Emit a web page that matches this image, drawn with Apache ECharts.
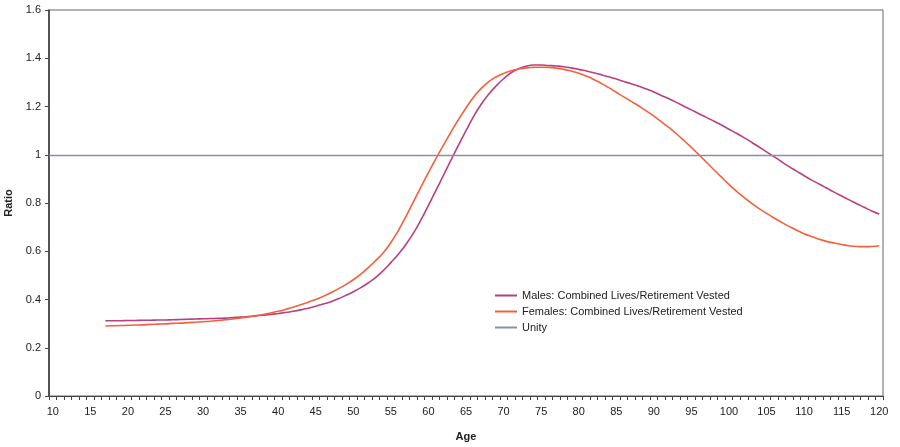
<!DOCTYPE html>
<html>
<head>
<meta charset="utf-8">
<script src="https://cdn.jsdelivr.net/npm/echarts@6/dist/echarts.min.js"></script>
<style>html,body{margin:0;padding:0;background:#fff}#c{width:900px;height:447px}</style>
</head>
<body>
<div id="c"></div>
<script>
const ages = [];
for (let a = 10; a <= 120; a++) ages.push(String(a));

// ages 10..16 have no value
const maleValues = [null,null,null,null,null,null,null,
0.312,0.312,0.312,0.313,0.313,0.314,0.314,0.315,0.315,0.316,
0.317,0.318,0.319,0.320,0.321,0.322,0.323,0.325,0.327,0.329,
0.332,0.335,0.338,0.342,0.346,0.351,0.357,0.364,0.372,0.381,
0.391,0.403,0.417,0.432,0.449,0.469,0.492,0.520,0.553,0.588,
0.628,0.675,0.730,0.790,0.852,0.915,0.978,1.040,1.100,1.158,
1.208,1.250,1.285,1.315,1.340,1.357,1.367,1.372,1.372,1.370,
1.368,1.365,1.360,1.354,1.347,1.340,1.332,1.323,1.314,1.304,
1.294,1.284,1.273,1.260,1.246,1.232,1.217,1.201,1.186,1.170,
1.155,1.139,1.123,1.106,1.089,1.071,1.052,1.032,1.012,0.992,
0.971,0.951,0.932,0.913,0.895,0.879,0.862,0.845,0.829,0.813,
0.797,0.782,0.767,0.754];

const femaleValues = [null,null,null,null,null,null,null,
0.290,0.291,0.292,0.293,0.294,0.295,0.297,0.298,0.299,0.301,
0.302,0.304,0.306,0.308,0.310,0.313,0.316,0.319,0.323,0.328,
0.333,0.338,0.344,0.351,0.359,0.368,0.378,0.389,0.400,0.413,
0.428,0.444,0.462,0.482,0.505,0.532,0.562,0.594,0.636,0.686,
0.744,0.805,0.866,0.926,0.984,1.040,1.094,1.146,1.194,1.238,
1.274,1.302,1.322,1.337,1.348,1.355,1.360,1.362,1.363,1.362,
1.359,1.354,1.347,1.338,1.326,1.312,1.296,1.278,1.259,1.240,
1.221,1.202,1.182,1.160,1.137,1.113,1.087,1.059,1.030,1.000,
0.969,0.938,0.907,0.877,0.849,0.823,0.799,0.777,0.757,0.738,
0.720,0.703,0.687,0.673,0.661,0.650,0.641,0.634,0.628,0.623,
0.620,0.619,0.620,0.623];

const unityValue = 1;
const yTicks = { min: 0, max: 1.6, interval: 0.2 };

const font = 'Liberation Sans, Arial, sans-serif';
const chart = echarts.init(document.getElementById('c'), null, { renderer: 'canvas' });
chart.setOption({
  animation: false,
  backgroundColor: '#fff',
  grid: { left: 49, right: 17, top: 10, bottom: 51, containLabel: false, outerBoundsMode: 'none',
    show: true, borderColor: '#666', borderWidth: 1, backgroundColor: 'transparent' },
  legend: {
    orient: 'vertical', left: 490, top: 285, itemWidth: 22, itemHeight: 2, itemGap: 5,
    icon: 'rect',
    textStyle: { fontFamily: font, fontSize: 11, color: '#222' },
    data: ['Males: Combined Lives/Retirement Vested', 'Females: Combined Lives/Retirement Vested', 'Unity']
  },
  xAxis: {
    type: 'category', data: ages, boundaryGap: true,
    name: 'Age', nameLocation: 'middle', nameGap: 35,
    nameTextStyle: { fontFamily: font, fontSize: 11, fontWeight: 'bold', color: '#222' },
    axisLine: { lineStyle: { color: '#444', width: 1 } },
    axisTick: { show: true, interval: 0, length: 4, lineStyle: { color: '#444' } },
    axisLabel: { interval: 4, margin: 10, fontFamily: font, fontSize: 11, color: '#222' },
    splitLine: { show: false }
  },
  yAxis: {
    type: 'value', min: yTicks.min, max: yTicks.max, interval: yTicks.interval,
    name: 'Ratio', nameLocation: 'middle', nameGap: 31, nameRotate: 90,
    nameTextStyle: { fontFamily: font, fontSize: 11, fontWeight: 'bold', color: '#222' },
    axisLine: { show: true, lineStyle: { color: '#333', width: 1.5 } },
    axisTick: { show: true, length: 4, lineStyle: { color: '#444' } },
    axisLabel: { margin: 8, fontFamily: font, fontSize: 11, color: '#222',
      formatter: v => String(Math.round(v * 10) / 10) },
    splitLine: { show: false }
  },
  series: [
    { name: 'Males: Combined Lives/Retirement Vested', type: 'line', data: maleValues,
      showSymbol: false, symbol: 'none', smooth: true, color: '#b8407f',
      lineStyle: { width: 1.6, color: '#b8407f' } },
    { name: 'Females: Combined Lives/Retirement Vested', type: 'line', data: femaleValues,
      showSymbol: false, symbol: 'none', smooth: true, color: '#f5603c',
      lineStyle: { width: 1.6, color: '#f5603c' } },
    { name: 'Unity', type: 'line', data: [], symbol: 'none', color: '#8890a8',
      lineStyle: { width: 1.3, color: '#8890a8' },
      markLine: { silent: true, symbol: ['none', 'none'], label: { show: false },
        lineStyle: { type: 'solid', width: 1.3, color: '#8890a8' },
        data: [{ yAxis: unityValue }] } }
  ]
});
</script>
</body>
</html>
